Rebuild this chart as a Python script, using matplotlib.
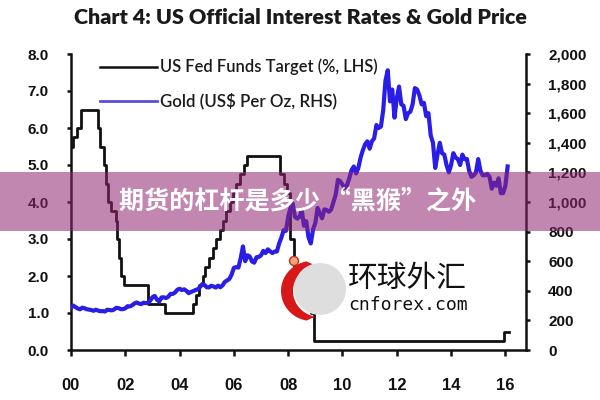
import numpy as np
import matplotlib
matplotlib.use("Agg")
import matplotlib.pyplot as plt
from matplotlib.patches import Rectangle, Circle, Polygon
from matplotlib.lines import Line2D

# ---------------- data ----------------
title = "Chart 4: US Official Interest Rates & Gold Price"
legend_labels = ["US Fed Funds Target (%, LHS)", "Gold (US$ Per Oz, RHS)"]
banner_text = "期货的杠杆是多少 “黑猴”之外"
watermark_cn = "环球外汇"
watermark_en = "cnforex.com"

# Fed funds target (upper bound), change dates in decimal years
fed_dates = [2000.00, 2000.09, 2000.22, 2000.37, 2001.00, 2001.08, 2001.21, 2001.30,
             2001.38, 2001.48, 2001.64, 2001.71, 2001.76, 2001.85, 2001.95, 2002.85,
             2003.48, 2004.49, 2004.61, 2004.72, 2004.86, 2004.95, 2005.09, 2005.22,
             2005.34, 2005.49, 2005.61, 2005.72, 2005.84, 2005.95, 2006.08, 2006.24,
             2006.36, 2006.49, 2007.71, 2007.83, 2007.95, 2008.06, 2008.08, 2008.21,
             2008.33, 2008.77, 2008.83, 2008.96, 2015.96, 2016.12]
fed_rates = [5.50, 5.75, 6.00, 6.50, 6.00, 5.50, 5.00, 4.50,
             4.00, 3.75, 3.50, 3.00, 2.50, 2.00, 1.75, 1.25,
             1.00, 1.25, 1.50, 1.75, 2.00, 2.25, 2.50, 2.75,
             3.00, 3.25, 3.50, 3.75, 4.00, 4.25, 4.50, 4.75,
             5.00, 5.25, 4.75, 4.50, 4.25, 3.50, 3.00, 2.25,
             2.00, 1.50, 1.00, 0.25, 0.50, 0.50]

# Gold, US$ per oz, monthly from Jan 2000
gold_start_year = 2000
gold = [285, 300, 290, 280, 275, 286, 282, 275, 273, 270, 265, 272,      # 2000
        266, 262, 263, 260, 272, 270, 268, 273, 285, 283, 276, 276,      # 2001
        282, 296, 294, 302, 314, 321, 314, 310, 319, 317, 319, 333,      # 2002
        357, 365, 340, 328, 355, 356, 351, 360, 379, 379, 389, 407,      # 2003
        414, 405, 410, 400, 384, 392, 398, 405, 410, 425, 445, 440,      # 2004
        424, 423, 434, 429, 422, 435, 424, 437, 460, 470, 480, 510,      # 2005
        555, 560, 557, 620, 700, 600, 640, 632, 598, 590, 627, 629,      # 2006
        640, 670, 655, 680, 667, 655, 665, 665, 720, 760, 810, 805,      # 2007
        900, 960, 990, 900, 888, 900, 945, 839, 870, 760, 720, 816,      # 2008
        858, 960, 924, 890, 950, 946, 934, 949, 1000, 1050, 1150, 1140,  # 2009
        1118, 1095, 1113, 1160, 1215, 1240, 1193, 1230, 1300, 1350, 1390, 1410,  # 2010
        1360, 1410, 1430, 1520, 1500, 1510, 1620, 1820, 1890, 1680, 1760, 1570,  # 2011
        1700, 1780, 1660, 1650, 1560, 1600, 1610, 1660, 1770, 1760, 1720, 1660,  # 2012
        1670, 1580, 1600, 1450, 1400, 1230, 1320, 1400, 1330, 1320, 1250, 1200,  # 2013
        1250, 1330, 1300, 1290, 1250, 1320, 1290, 1290, 1210, 1170, 1180, 1200,  # 2014
        1290, 1210, 1180, 1180, 1190, 1170, 1090, 1130, 1110, 1160, 1060, 1060,  # 2015
        1110, 1240]                                                      # 2016

x_ticks = [2000, 2002, 2004, 2006, 2008, 2010, 2012, 2014, 2016]
x_tick_labels = ["00", "02", "04", "06", "08", "10", "12", "14", "16"]
left_ticks = [0, 1, 2, 3, 4, 5, 6, 7, 8]
left_tick_labels = ["0.0", "1.0", "2.0", "3.0", "4.0", "5.0", "6.0", "7.0", "8.0"]
right_ticks = [0, 200, 400, 600, 800, 1000, 1200, 1400, 1600, 1800, 2000]
right_tick_labels = ["0", "200", "400", "600", "800", "1,000", "1,200", "1,400",
                     "1,600", "1,800", "2,000"]

# ---------------- style ----------------
NARROW = ["Lato", "DejaVu Sans"]
TICKFONT = ["Liberation Sans", "DejaVu Sans"]
CJK = ["Noto Sans CJK SC", "DejaVu Sans"]
BLACK = "#111111"
GOLD_C = "#2a1ee6"
SPINE_W = 1.8

fig = plt.figure(figsize=(6, 4), dpi=100)
fig.patch.set_facecolor("white")

ax = fig.add_axes([71 / 600, 1 - 350 / 400, 455 / 600, 296 / 400])
ax2 = ax.twinx()

gold_x = gold_start_year + np.arange(len(gold)) / 12.0
ax.step(fed_dates, fed_rates, where="post", color=BLACK, lw=2.0, zorder=3)
ax2.plot(gold_x, gold, color=GOLD_C, lw=3.0, solid_joinstyle="round", zorder=2)

ax.set_xlim(2000, 2016.76)
ax.set_ylim(0, 8)
ax2.set_ylim(0, 2000)

for a in (ax, ax2):
    a.spines["top"].set_visible(False)
    for s in a.spines.values():
        s.set_linewidth(SPINE_W)
        s.set_color(BLACK)
ax.spines["right"].set_visible(False)
ax2.spines["left"].set_visible(False)
ax2.spines["bottom"].set_visible(False)

ax.set_xticks(x_ticks)
ax.set_xticklabels(x_tick_labels, fontfamily=TICKFONT, fontweight="bold", fontsize=12)
ax.set_yticks(left_ticks)
ax.set_yticklabels(left_tick_labels, fontfamily=TICKFONT, fontweight="bold", fontsize=11)
ax2.set_yticks(right_ticks)
ax2.set_yticklabels(right_tick_labels, fontfamily=TICKFONT, fontweight="bold", fontsize=11)

ax.tick_params(axis="x", direction="out", length=4, width=SPINE_W, pad=16, colors=BLACK)
ax.tick_params(axis="y", direction="out", length=3, width=SPINE_W, pad=13, colors=BLACK)
ax2.tick_params(axis="y", direction="out", length=3, width=SPINE_W, pad=13, colors=BLACK)

# ---------------- overlay (pixel coordinates) ----------------
ov = fig.add_axes([0, 0, 1, 1], zorder=5)
ov.set_xlim(0, 600)
ov.set_ylim(400, 0)
ov.axis("off")
ov.patch.set_alpha(0)

renderer = fig.canvas.get_renderer()


def fit_text(txt, width_px):
    """Scale a text's font size so that it spans the given pixel width."""
    w = txt.get_window_extent(renderer=renderer).width
    txt.set_fontsize(txt.get_fontsize() * width_px / w)


t_title = ov.text(300, 17, title, ha="center", va="center", fontsize=18,
                  fontweight="heavy", fontfamily=NARROW, color="#1a1a1a")
fit_text(t_title, 452)

# legend
ov.add_line(Line2D([100, 157], [67, 67], color=BLACK, lw=1.8))
ov.add_line(Line2D([100, 157], [101, 101], color="#5a4ed8", lw=2.0))
t_l1 = ov.text(160, 67, legend_labels[0], ha="left", va="center", fontsize=12,
               fontweight="semibold", fontfamily=NARROW, color="#1a1a1a")
t_l2 = ov.text(160, 101, legend_labels[1], ha="left", va="center", fontsize=12,
               fontweight="semibold", fontfamily=NARROW, color="#1a1a1a")
fit_text(t_l1, 217)
fit_text(t_l2, 177)

# watermark logo
t = np.radians(np.linspace(100, 260, 60))
outer = np.column_stack([312 + 31 * np.cos(t), 291 - 30 * np.sin(t)])
t2 = t[::-1]
inner = np.column_stack([320 + 27 * np.cos(t2), 291 - 26 * np.sin(t2)])
ov.add_patch(Polygon(np.vstack([outer, inner]), closed=True, facecolor="#d81818",
                     edgecolor="none", zorder=2))
ov.add_patch(Circle((320, 289), 26, facecolor="#dedede", edgecolor="none", zorder=3))
ov.add_patch(Circle((294, 261), 4.5, facecolor="#f2a27a", edgecolor="#c0301c", lw=1.0, zorder=4))
t_cn = ov.text(348, 278, watermark_cn, ha="left", va="center", fontsize=18,
               fontfamily=CJK, color="#111111", zorder=4)
fit_text(t_cn, 119)
ov.text(408, 305, watermark_en, ha="center", va="center", fontsize=13,
        fontfamily=["DejaVu Sans Mono"], color="#111111", zorder=4)

# pink banner
ov.add_patch(Rectangle((0, 172), 600, 59, facecolor="#912470", alpha=0.55,
                       edgecolor="none", zorder=6))
t_ban = ov.text(298, 201, banner_text, ha="center", va="center", fontsize=17,
                fontweight="bold", fontfamily=CJK, color="white", zorder=7)
fit_text(t_ban, 357)

fig.savefig("out.png", dpi=100, facecolor="white")
